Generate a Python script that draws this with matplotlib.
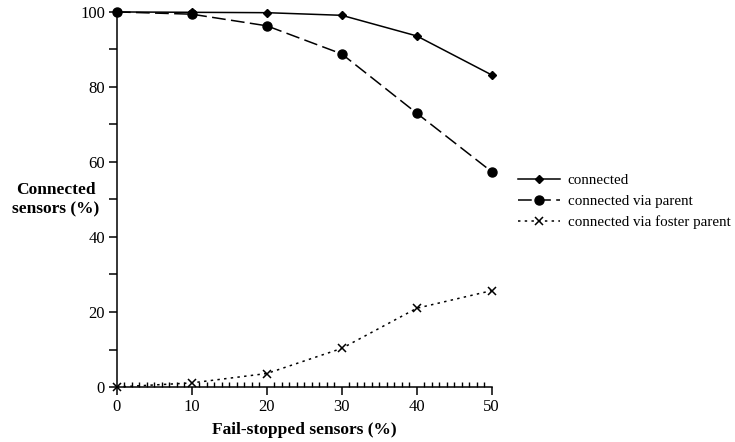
import numpy as np
import matplotlib.pyplot as plt
from matplotlib.ticker import MultipleLocator

# dane
failed = [0, 10, 20, 30, 40, 50]
connected = [100, 99.9, 99.8, 99.1, 93.6, 83.2]
via_parent = [100, 99.4, 96.3, 88.8, 73.0, 57.4]
via_foster = [0, 1.1, 3.6, 10.3, 21.0, 25.7]

plt.rcParams['font.family'] = ['Liberation Serif', 'DejaVu Serif']
plt.rcParams['font.size'] = 10

fig = plt.figure(figsize=(7.35, 4.42), dpi=100)
ax = fig.add_axes([0.159, 0.1244, 0.51, 0.8486])

ax.plot(failed, connected, color='black', linewidth=1.1, marker='D',
        markersize=4.5, clip_on=False, label='connected')
ax.plot(failed, via_parent, color='black', linewidth=1.1, marker='o',
        markersize=6.5, dashes=(9, 3.5), clip_on=False,
        label='connected via parent')
ax.plot(failed, via_foster, color='black', linewidth=1.1, marker='x',
        markersize=6, markeredgewidth=1.1, dashes=(1.6, 2.8), clip_on=False,
        label='connected via foster parent')

ax.set_xlim(0, 50)
ax.set_ylim(0, 100)
for s in ['top', 'right']:
    ax.spines[s].set_visible(False)
ax.spines['left'].set_linewidth(1.1)
ax.spines['bottom'].set_linewidth(1.1)

ax.xaxis.set_major_locator(MultipleLocator(10))
ax.xaxis.set_minor_locator(MultipleLocator(1))
ax.yaxis.set_major_locator(MultipleLocator(20))
ax.yaxis.set_minor_locator(MultipleLocator(10))
ax.tick_params(axis='x', which='major', direction='out', length=5.5, width=1.1,
               labelsize=12, pad=3)
ax.tick_params(axis='x', which='minor', direction='in', length=3.5, width=1.0)
ax.tick_params(axis='y', which='both', direction='out', length=5.5, width=1.1,
               labelsize=12, pad=3)

ax.set_xlabel('Fail-stopped sensors (%)', fontsize=12.5, fontweight='bold',
              labelpad=5)
fig.text(0.076, 0.549, 'Connected\nsensors (%)', fontsize=12.5,
         fontweight='bold', ha='center', va='center', linespacing=1.3)

fig.legend(loc='center left', bbox_to_anchor=(0.695, 0.544), frameon=False,
           fontsize=10.8, handlelength=2.8, handletextpad=0.5,
           labelspacing=0.48, borderpad=0)

fig.savefig('out.png', dpi=100)
